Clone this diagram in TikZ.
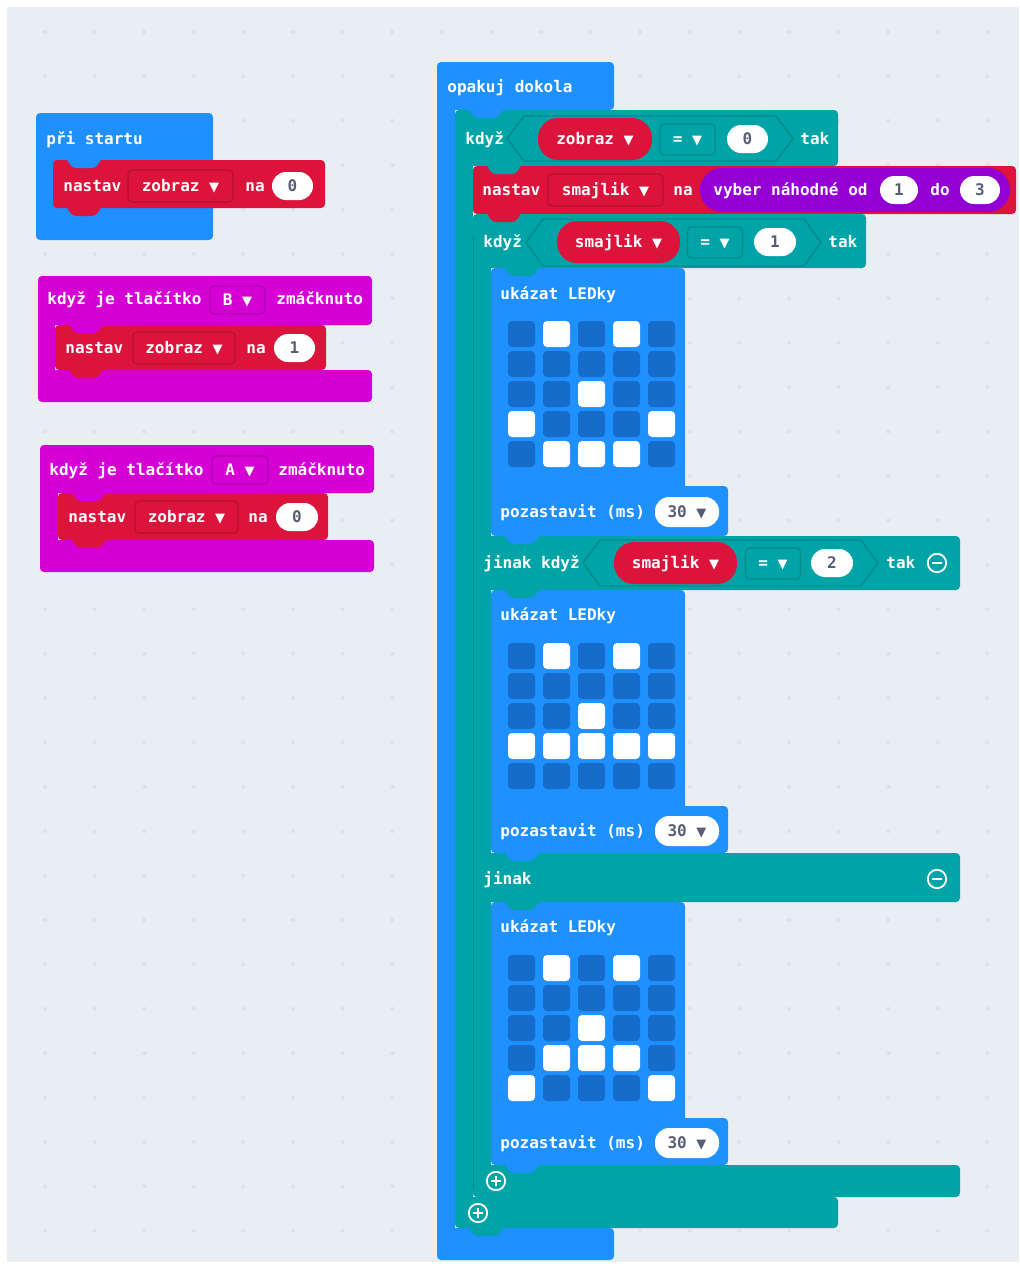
\documentclass[tikz,border=0pt]{standalone}
\usepackage{fontspec}
\setmonofont{DejaVu Sans Mono}
\newfontfamily\symf{DejaVu Sans}
\definecolor{bgc}{HTML}{E9EEF2}
\definecolor{dotc}{HTML}{DDE2E6}
\definecolor{mblue}{HTML}{1E90FF}
\definecolor{ledoff}{HTML}{156CCB}
\definecolor{mteal}{HTML}{00A4A6}
\definecolor{tealD}{HTML}{00898B}
\definecolor{mred}{HTML}{DC143C}
\definecolor{redD}{HTML}{B31032}
\definecolor{mmag}{HTML}{D400D4}
\definecolor{magD}{HTML}{AE00AE}
\definecolor{mpurp}{HTML}{9400D3}
\definecolor{valc}{HTML}{575E75}
\newcommand{\blockfont}{\ttfamily\bfseries\fontsize{8}{9}\selectfont}
\newcommand{\arr}{{\symf\fontsize{6.5}{7}\selectfont ▼}}
% block pieces (pixel units of the screenshot)
\newcommand{\blk}[5]{\fill[#1,rounded corners=2pt] (#2,#3) rectangle (#4,#5);}
\newcommand{\tabb}[3]{\fill[#1,rounded corners=1.5pt] (#2+13,#3-1) -- (#2+20,#3+8) -- (#2+42,#3+8) -- (#2+49,#3-1) -- cycle;}
\newcommand{\hexb}[4]{\draw[tealD,fill=mteal,line width=0.7pt] (#1,{(#3+#4)/2}) -- (#1+17,#3) -- (#2-17,#3) -- (#2,{(#3+#4)/2}) -- (#2-17,#4) -- (#1+17,#4) -- cycle;}
\newcommand{\plusic}[2]{\draw[white,line width=0.9pt] (#1,#2) circle (4.6pt) (#1-5,#2) -- (#1+5,#2) (#1,#2-5) -- (#1,#2+5);}
\newcommand{\minusic}[2]{\draw[white,line width=0.9pt] (#1,#2) circle (4.6pt) (#1-5,#2) -- (#1+5,#2);}
\newcommand{\ledgrid}[2]{%
  \foreach \c in {0,...,4} {\foreach \r in {0,...,4}
    {\fill[ledoff,rounded corners=2pt] (508+35*\c,#1+53+30*\r) rectangle ++(27,26);}}
  \foreach \c/\r in {#2}
    {\fill[white,rounded corners=2pt] (508+35*\c,#1+53+30*\r) rectangle ++(27,26);}}
\tikzset{
  txt/.style={text=white,font=\blockfont,inner sep=0pt,text height=5pt,text depth=0pt,anchor=west},
  val/.style={fill=white,text=valc,font=\blockfont,rounded corners=7pt,minimum height=14pt,inner sep=0pt,text height=5pt,text depth=0pt},
  fieldbox/.style={draw=#1,line width=0.6pt,rounded corners=2pt,minimum height=16pt,inner sep=0pt,text=white,font=\blockfont,text height=5pt,text depth=0pt},
  varov/.style={fill=mred,text=white,font=\blockfont,rounded corners=10pt,minimum height=21pt,inner sep=0pt,text height=5pt,text depth=0pt},
  cmpbox/.style={fieldbox=tealD,fill=mteal,minimum width=27.5pt,minimum height=15.5pt}
}
\begin{document}
\begin{tikzpicture}[x=0.5pt,y=-0.5pt]
  \useasboundingbox (0,0) rectangle (1019,1264);
  \fill[white] (0,0) rectangle (1019,1264);
  \fill[bgc] (7,7) rectangle (1019,1262);
  \foreach \i in {0,...,19} {\foreach \j in {0,...,27}
    {\fill[dotc] (45+49.6*\i,32+44.4*\j) circle (1pt);}}

  % při startu
  \blk{mblue}{36}{113}{213}{240}
  \blk{mred}{53}{160}{325}{208}
  \tabb{mblue}{53}{160} \tabb{mred}{53}{208}
  \node[txt] (start) at (46,139) {při startu};
  \node[txt] (set1) at (63,186) {nastav};
  \node[fieldbox=redD,minimum width=52.5pt] (var1) at (180.5,186) {zobraz \arr};
  \node[txt] (na1) at (245,186) {na};
  \node[val,minimum width=20.5pt] (val1) at (292.5,186) {0};

  % tlačítko B
  \blk{mmag}{38}{276}{372}{325}
  \blk{mmag}{38}{300}{55}{390}
  \blk{mmag}{38}{370}{372}{402}
  \blk{mred}{55}{325}{326}{370}
  \tabb{mmag}{55}{325} \tabb{mred}{55}{370}
  \node[txt] (btnB) at (47,299) {když je tlačítko};
  \node[fieldbox=magD,minimum width=27.5pt,minimum height=14pt] (keyB) at (237.5,300) {B \arr};
  \node[txt] (pressB) at (276,299) {zmáčknuto};
  \node[txt] (set2) at (65,348) {nastav};
  \node[fieldbox=redD,minimum width=51pt] (var2) at (184,348) {zobraz \arr};
  \node[txt] (na2) at (246,348) {na};
  \node[val,minimum width=20.5pt] (val2) at (294.5,348) {1};

  % tlačítko A
  \blk{mmag}{40}{445}{374}{493}
  \blk{mmag}{40}{470}{58}{560}
  \blk{mmag}{40}{540}{374}{572}
  \blk{mred}{58}{493}{328}{540}
  \tabb{mmag}{58}{493} \tabb{mred}{58}{540}
  \node[txt] (btnA) at (49,470) {když je tlačítko};
  \node[fieldbox=magD,minimum width=28pt,minimum height=14pt] (keyA) at (240,470) {A \arr};
  \node[txt] (pressA) at (278,470) {zmáčknuto};
  \node[txt] (set3) at (68,517) {nastav};
  \node[fieldbox=redD,minimum width=51.5pt] (var3) at (186.5,517) {zobraz \arr};
  \node[txt] (na3) at (248,517) {na};
  \node[val,minimum width=21pt] (val3) at (297,517) {0};

  % opakuj dokola
  \blk{mblue}{437}{62}{614}{110}
  \blk{mblue}{437}{80}{455}{1240}
  \blk{mblue}{437}{1228}{614}{1260}
  \node[txt] (loop) at (447,87) {opakuj dokola};

  % když zobraz = 0
  \blk{mteal}{455}{110}{838}{166}
  \blk{mteal}{455}{140}{473}{1210}
  \blk{mteal}{455}{1197}{838}{1228}
  \hexb{507}{793}{116}{161}
  \node[txt] (if1) at (465,139) {když};
  \node[varov,minimum width=57pt] (cond1) at (595,139) {zobraz \arr};
  \node[cmpbox] (eq1) at (687.5,139.5) {= \arr};
  \node[val,minimum width=20.5pt] (num1) at (747.5,139) {0};
  \node[txt] (then1) at (800,139) {tak};
  \plusic{478}{1213}

  % nastav smajlik
  \blk{mred}{473}{166}{1016}{214}
  \node[txt] (set4) at (482,190) {nastav};
  \node[fieldbox=redD,minimum width=57.5pt] (var4) at (605.5,190) {smajlik \arr};
  \node[txt] (na4) at (673,190) {na};
  \node[fill=mpurp,rounded corners=11pt,minimum width=155pt,minimum height=22pt,inner sep=0pt] (rnd) at (855,190) {};
  \node[txt] (rndtxt) at (713,190) {vyber náhodné od};
  \node[val,minimum width=19pt] (from) at (899,190) {1};
  \node[txt] (to) at (930,190) {do};
  \node[val,minimum width=20pt] (upto) at (980,190) {3};

  % když smajlik = 1 / jinak když / jinak
  \blk{mteal}{473}{214}{866}{268}
  \blk{mteal}{473}{240}{491}{1197}
  \blk{mteal}{473}{536}{960}{590}
  \blk{mteal}{473}{853}{960}{902}
  \blk{mteal}{473}{1165}{960}{1197}
  \draw[tealD,line width=0.5pt] (473,236) -- (473,1190);
  \hexb{526}{821}{219}{266}
  \node[txt] (if2) at (483,242) {když};
  \node[varov,minimum width=61.5pt] (cond2) at (618.5,242) {smajlik \arr};
  \node[cmpbox] (eq2) at (715,242.5) {= \arr};
  \node[val,minimum width=21pt] (num2) at (775,242) {1};
  \node[txt] (then2) at (828,242) {tak};
  \hexb{583}{878}{540}{586}
  \node[txt] (elif) at (483,563) {jinak když};
  \node[varov,minimum width=61.5pt] (cond3) at (675.5,563) {smajlik \arr};
  \node[cmpbox] (eq3) at (773,563.5) {= \arr};
  \node[val,minimum width=21pt] (num3) at (832,563) {2};
  \node[txt] (then3) at (886,563) {tak};
  \minusic{937}{563}
  \node[txt] (else) at (483,879) {jinak};
  \minusic{937}{879}
  \plusic{496}{1181}

  % ukázat LEDky + pozastavit
  \blk{mblue}{491}{268}{685}{496}
  \blk{mblue}{491}{486}{728}{536}
  \blk{mblue}{491}{590}{685}{816}
  \blk{mblue}{491}{806}{728}{853}
  \blk{mblue}{491}{902}{685}{1128}
  \blk{mblue}{491}{1118}{728}{1165}
  \ledgrid{268}{1/0,3/0,2/2,0/3,4/3,1/4,2/4,3/4}
  \ledgrid{590}{1/0,3/0,2/2,0/3,1/3,2/3,3/3,4/3}
  \ledgrid{902}{1/0,3/0,2/2,1/3,2/3,3/3,0/4,4/4}
  \node[txt] (show1) at (500,294) {ukázat LEDky};
  \node[txt] (show2) at (500,615) {ukázat LEDky};
  \node[txt] (show3) at (500,927) {ukázat LEDky};
  \node[txt] (pause1) at (500,512) {pozastavit (ms)};
  \node[val,minimum width=32pt,minimum height=15pt] (ms1) at (687,512) {30 \arr};
  \node[txt] (pause2) at (500,831) {pozastavit (ms)};
  \node[val,minimum width=32pt,minimum height=15pt] (ms2) at (687,831) {30 \arr};
  \node[txt] (pause3) at (500,1143) {pozastavit (ms)};
  \node[val,minimum width=32pt,minimum height=15pt] (ms3) at (687,1143) {30 \arr};

  % spojky
  \tabb{mblue}{455}{110}
  \tabb{mteal}{473}{166}
  \tabb{mred}{473}{214}
  \foreach \ty in {268,590,902} {\tabb{mteal}{491}{\ty}}
  \foreach \ty in {486,536,806,853,1118,1165} {\tabb{mblue}{491}{\ty}}
  \tabb{mteal}{455}{1228}
\end{tikzpicture}
\end{document}
